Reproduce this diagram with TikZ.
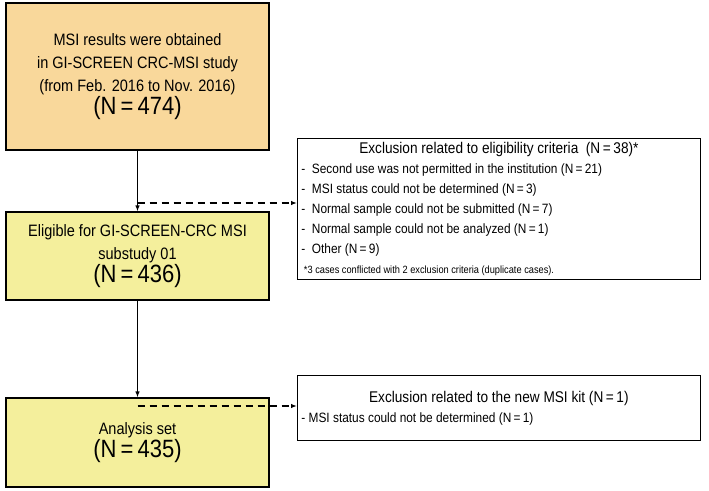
\documentclass[tikz,border=0pt]{standalone}
\usepackage{fontspec}
\setmainfont{Liberation Sans}[FakeStretch=0.88]
\usetikzlibrary{positioning, arrows.meta}

\definecolor{boxorange}{HTML}{F9D89B}
\definecolor{boxyellow}{HTML}{F4EF9C}
\newcommand{\bignum}{\fontsize{25}{34}\selectfont}

\tikzset{
    mainbox/.style = {draw, line width = 1.2pt, minimum width = 263pt, align = center, inner sep = 3pt,
                      font = \fontsize{16.5}{23}\selectfont},
    sidebox/.style = {draw, line width = 0.8pt, minimum width = 403pt, align = left, inner sep = 4pt,
                      anchor = north west, font = \fontsize{13.5}{20}\selectfont},
    flow/.style = {line width = 1.2pt, -{Latex[length = 6pt]}}
}

\begin{document}
\begin{tikzpicture}[x = 1pt, y = -1pt]
    \useasboundingbox (0, 0) rectangle (709, 490);

    \node [mainbox, fill = boxorange, minimum height = 147pt] (obtained) at (137.5, 76.5)
        {MSI results were obtained\\
         in GI-SCREEN CRC-MSI study\\
         (from Feb. 2016 to Nov. 2016)\\
         {\bignum (N\,=\,474)}};
    \node [mainbox, fill = boxyellow, minimum height = 88pt] (eligible) at (137.5, 256)
        {Eligible for GI-SCREEN-CRC MSI\\
         substudy 01\\
         {\bignum (N\,=\,436)}};
    \node [mainbox, fill = boxyellow, minimum height = 89pt] (analysis) at (137.5, 442.5)
        {Analysis set\\
         {\bignum (N\,=\,435)}};

    \node [sidebox, minimum height = 108pt] (exclA) at (297, 138)
        {\makebox[395pt][c]{\fontsize{15.5}{18}\selectfont Exclusion related to eligibility criteria \ (N\,=\,38)*}\\
         -\ \ Second use was not permitted in the institution (N\,=\,21)\\
         -\ \ MSI status could not be determined (N\,=\,3)\\
         -\ \ Normal sample could not be submitted (N\,=\,7)\\
         -\ \ Normal sample could not be analyzed (N\,=\,1)\\
         -\ \ Other (N\,=\,9)\\
         {\fontsize{10.5}{16}\selectfont\ *3 cases conflicted with 2 exclusion criteria (duplicate cases).}};
    \node [sidebox, minimum height = 65pt] (exclB) at (297, 375)
        {\makebox[395pt][c]{\fontsize{15.5}{18}\selectfont Exclusion related to the new MSI kit (N\,=\,1)}\\
         - MSI status could not be determined (N\,=\,1)};

    \draw [flow] (obtained) -- (eligible);
    \draw [flow] (eligible) -- (analysis);

    \coordinate (splitA) at (137.5, 203);
    \coordinate (splitB) at (137.5, 406);
    \draw [flow, dash pattern = on 7pt off 5pt] (splitA) -- (splitA -| exclA.west);
    \draw [flow, dash pattern = on 7pt off 5pt] (splitB) -- (splitB -| exclB.west);
\end{tikzpicture}
\end{document}
